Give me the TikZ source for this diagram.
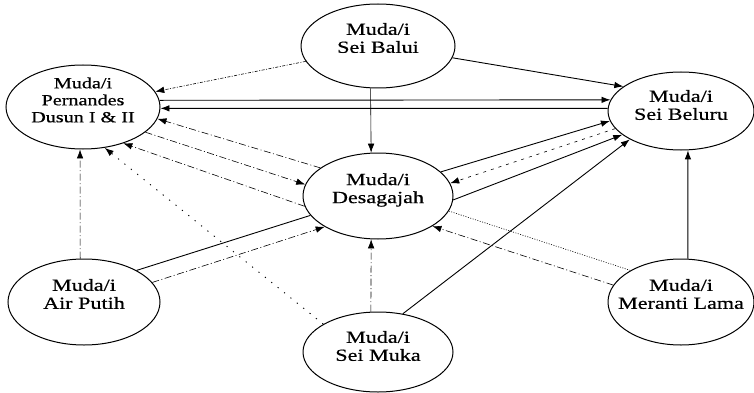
\documentclass[tikz,border=0pt]{standalone}
\usepackage{fontspec}
\setmainfont{Liberation Serif}[FakeStretch=1.3,FakeBold=0.6]
\usetikzlibrary{shapes.geometric,arrows.meta}
\begin{document}
\begin{tikzpicture}[x=1pt,y=-1pt,
  place/.style={ellipse, draw, line width=1pt, inner sep=0pt},
  lbl/.style={align=center, inner sep=0pt, font=\fontsize{17}{18}\selectfont},
  arr/.style={-{Latex[length=9pt,width=6.5pt]}},
  solidln/.style={line width=0.9pt},
  thinln/.style={line width=0.6pt},
  dashdot/.style={line width=0.6pt, dash pattern=on 7pt off 2.5pt on 1pt off 2.5pt},
  dashfine/.style={line width=0.6pt, dash pattern=on 3pt off 1.5pt on 1pt off 1.5pt},
  sparsedot/.style={line width=0.9pt, dash pattern=on 1.2pt off 7pt},
  sparsedash/.style={line width=0.6pt, dash pattern=on 3pt off 5pt},
  finedot/.style={line width=0.6pt, dash pattern=on 1pt off 1.5pt}
]
\useasboundingbox (0,0) rectangle (754,393);

% nodes
\node[place, minimum width=154pt, minimum height=84pt] (balui) at (378,46) {};
\node[place, minimum width=154pt, minimum height=84pt] (pern) at (83,107) {};
\node[place, minimum width=146pt, minimum height=78pt] (beluru) at (681,111) {};
\node[place, minimum width=150pt, minimum height=86pt] (desa) at (378,196) {};
\node[place, minimum width=152pt, minimum height=86pt] (air) at (84,302) {};
\node[place, minimum width=150pt, minimum height=80pt] (muka) at (378,352) {};
\node[place, minimum width=146pt, minimum height=86pt] (meranti) at (681,302) {};

% labels
\node[lbl] (balui-t) at ([yshift=8pt]balui.center) {Muda/i\\Sei Balui};
\node[lbl, font=\fontsize{15.5}{17}\selectfont] (pern-t) at ([yshift=7pt]pern.center) {Muda/i\\Pernandes\\Dusun I \& II};
\node[lbl] (beluru-t) at ([yshift=6pt]beluru.center) {Muda/i\\Sei Beluru};
\node[lbl] (desa-t) at ([yshift=6pt]desa.center) {Muda/i\\Desagajah};
\node[lbl] (air-t) at ([yshift=8pt]air.center) {Muda/i\\Air Putih};
\node[lbl] (muka-t) at ([yshift=6pt]muka.center) {Muda/i\\Sei Muka};
\node[lbl] (meranti-t) at ([yshift=8pt]meranti.center) {Muda/i\\Meranti Lama};

% connectors
\draw[dashfine, arr] (balui.192) -- (pern.12);
\draw[solidln, arr] (balui.-9) -- (beluru.157);
\draw[thinln, arr] (balui.260) -- (desa.99);

\draw[solidln, arr] (pern.5) -- (beluru.171);
\draw[solidln, arr] (beluru.178) -- (pern.-1);

\draw[dashdot, arr] (desa.154) -- (pern.-9);
\draw[dashdot, arr] (pern.-22) -- (desa.171);
\draw[dashdot, arr] (desa.188) -- (pern.-42);

\draw[dashdot, arr] (air.95) -- (pern.266);
\draw[sparsedot, arr] (muka.153) -- (pern.-62);

\draw[solidln] (air.31) -- (desa.196);
\draw[dashdot, arr] (air.16) -- (desa.210);

\draw[dashdot, arr] (muka.100) -- (desa.261);
\draw[solidln, arr] (muka.57) -- (beluru.209);

\draw[solidln, arr] (desa.21) -- (beluru.188);
\draw[sparsedash, arr] (beluru.195) -- (desa.10);
\draw[solidln, arr] (desa.-3) -- (beluru.202);

\draw[solidln, arr] (meranti.81) -- (beluru.-80);
\draw[dashdot, arr] (meranti.166) -- (desa.-29);
\draw[finedot] (desa.-12) -- (meranti.148);
\end{tikzpicture}
\end{document}
